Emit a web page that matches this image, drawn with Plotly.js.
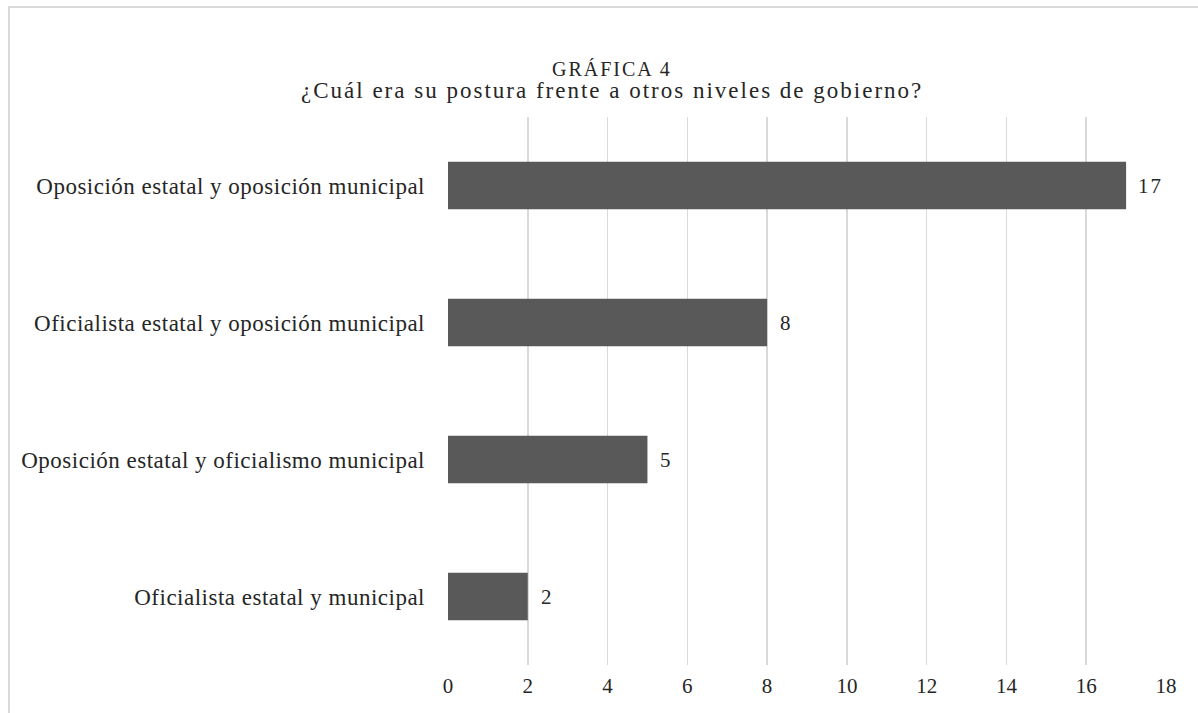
<!DOCTYPE html>
<html>
<head>
<meta charset="utf-8">
<script src="https://cdn.plot.ly/plotly-3.0.1.min.js"></script>
<style>
html,body{margin:0;padding:0;background:#fff;overflow:hidden;}
#frame{position:absolute;left:8px;top:6px;width:1300px;height:800px;border-left:2px solid #d9d9d9;border-top:2px solid #d9d9d9;pointer-events:none;}
#chart{position:absolute;left:0;top:0;width:1198px;height:713px;}
#chart .ytick text{letter-spacing:0.5px;}
#chart .annotation-text{letter-spacing:2px;}
</style>
</head>
<body>
<div id="chart"></div>
<div id="frame"></div>
<script>
const categories = [
  "Oposición estatal y oposición municipal",
  "Oficialista estatal y oposición municipal",
  "Oposición estatal y oficialismo municipal",
  "Oficialista estatal y municipal"
];
const values = [17, 8, 5, 2];
const tickValues = [0, 2, 4, 6, 8, 10, 12, 14, 16, 18];
const titleLines = ["GRÁFICA 4", "¿Cuál era su postura frente a otros niveles de gobierno?"];

const font = "Liberation Serif";
const textColor = "#262626";

const trace = {
  type: "bar",
  orientation: "h",
  y: categories,
  x: values,
  marker: {color: "#595959"},
  hoverinfo: "none"
};

const labelAnnotations = values.map((v, i) => ({
  x: v,
  y: categories[i],
  xref: "x",
  yref: "y",
  text: String(v),
  showarrow: false,
  xanchor: "left",
  yanchor: "middle",
  xshift: 12,
  font: {family: font, size: 21, color: textColor}
}));

// title lines as annotations (positions in paper space of the plot area)
const titleAnnotations = [
  {text: titleLines[0], x: 0.2284, y: 1.087, size: 20},
  {text: titleLines[1], x: 0.2284, y: 1.049, size: 23}
].map(a => ({
  text: a.text,
  x: a.x,
  y: a.y,
  xref: "paper",
  yref: "paper",
  xanchor: "center",
  yanchor: "middle",
  showarrow: false,
  font: {family: font, size: a.size, color: textColor}
}));

const layout = {
  width: 1198,
  height: 713,
  paper_bgcolor: "#ffffff",
  plot_bgcolor: "#ffffff",
  margin: {l: 448, r: 32, t: 117, b: 48},
  bargap: 0.655,
  showlegend: false,
  annotations: titleAnnotations.concat(labelAnnotations),
  xaxis: {
    range: [0, 18],
    tickvals: tickValues,
    showgrid: true,
    gridcolor: "#d9d9d9",
    gridwidth: 1.5,
    zeroline: false,
    showline: false,
    ticks: "",
    tickfont: {family: font, size: 21, color: textColor},
    ticklabelstandoff: 6,
    fixedrange: true
  },
  yaxis: {
    autorange: "reversed",
    showgrid: false,
    zeroline: false,
    showline: false,
    ticks: "",
    tickfont: {family: font, size: 23, color: textColor},
    ticklabelstandoff: 22,
    fixedrange: true
  }
};

Plotly.newPlot("chart", [trace], layout, {displayModeBar: false, staticPlot: true});
</script>
</body>
</html>
